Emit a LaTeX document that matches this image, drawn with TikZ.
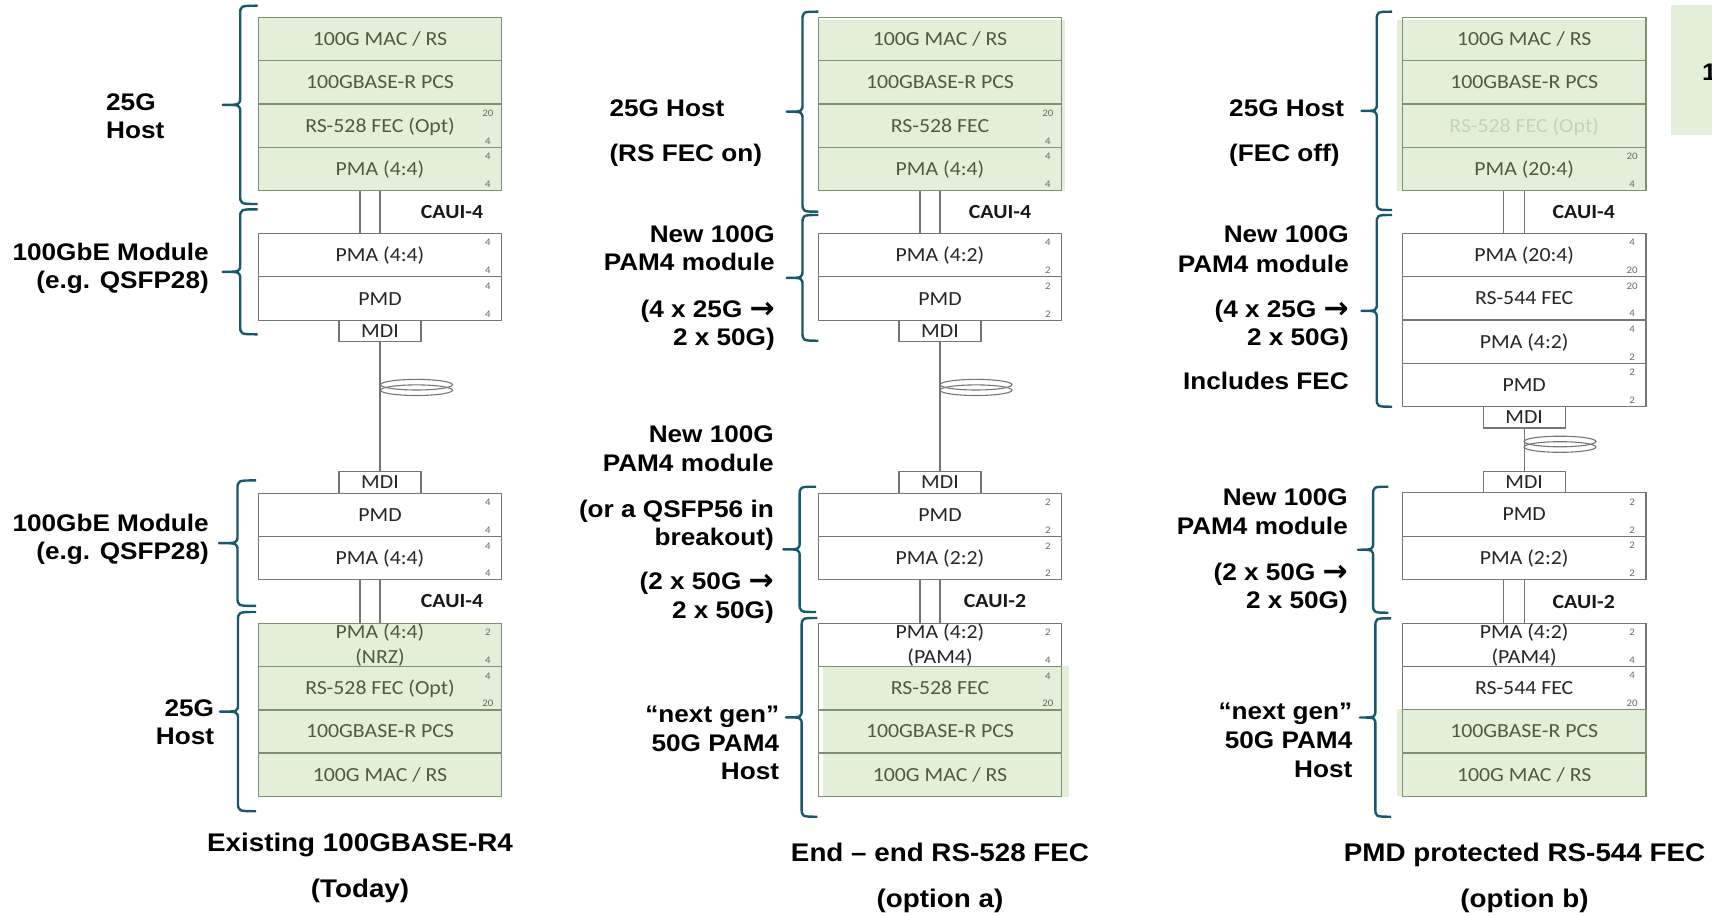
\documentclass[tikz,border=0pt]{standalone}
\usepackage{fontspec}
\setmainfont{Carlito}[FakeStretch=1.09]
\newfontfamily\labfont{Liberation Sans}[FakeStretch=1.09]
\newfontfamily\arrfont{DejaVu Sans}
\definecolor{gfill}{RGB}{227,239,217}
\definecolor{gtext}{RGB}{78,90,66}
\definecolor{wtext}{RGB}{38,38,38}
\definecolor{edge}{RGB}{118,118,118}
\definecolor{gedge}{RGB}{128,142,114}
\definecolor{brc}{RGB}{24,88,108}
\definecolor{numc}{RGB}{105,105,105}
\definecolor{faded}{RGB}{196,210,185}
\tikzset{
  box/.style={draw=edge, line width=1.1pt, minimum width=243.5pt, minimum height=43.35pt, inner sep=0pt, text=wtext},
  row/.style={box, font=\fontsize{20}{24}\selectfont, text height=12.9pt, text depth=0pt},
  two/.style={box, align=center, font=\fontsize{20}{25.7}\selectfont},
  grn/.style={draw=gedge, text=gtext},
  mdi/.style={draw=edge, line width=1.1pt, minimum width=82pt, minimum height=21.2pt, inner sep=0pt, font=\fontsize{20}{24}\selectfont, text height=12.9pt, text depth=0pt, text=wtext, fill=white},
  num/.style={font=\fontsize{10}{12}\selectfont, text=numc, inner sep=0pt},
  caui/.style={font=\bfseries\fontsize{20}{24}\selectfont, text=black!90, inner sep=0pt},
  lab/.style={font=\labfont\bfseries\fontsize{24}{28}\selectfont, inner sep=0pt},
  ttl/.style={font=\labfont\bfseries\fontsize{25.5}{30}\selectfont, inner sep=0pt, anchor=base},
  curly/.style={draw=brc, line width=2.4pt, line join=round},
  wire/.style={draw=edge, line width=1.1pt},
  coil/.style={draw=edge, line width=1.1pt}
}
\newcommand\lanes[3]{%
  \node[num] (#1t) at ([xshift=-14.5pt,yshift=-9.8pt]#1.north east) {#2};
  \node[num] (#1b) at ([xshift=-14.5pt,yshift=6.8pt]#1.south east) {#3};}
% #1 base x, #2 top y, #3 bottom y, #4 depth of the tip
\newcommand\curlyb[4]{%
  \draw[curly] (#1,#2) .. controls ({#1-#4/2},#2) .. ({#1-#4/2},{#2+9})
    -- ({#1-#4/2},{(#2+#3)/2-8}) .. controls ({#1-#4/2},{(#2+#3)/2}) .. ({#1-#4},{(#2+#3)/2})
    .. controls ({#1-#4/2},{(#2+#3)/2}) .. ({#1-#4/2},{(#2+#3)/2+8})
    -- ({#1-#4/2},{#3-9}) .. controls ({#1-#4/2},#3) .. (#1,#3);}
\newcommand\arr{{\arrfont\fontsize{30}{30}\selectfont\raisebox{-1.5pt}{→}}}
\begin{document}
\begin{tikzpicture}[x=1pt,y=-1pt]
\useasboundingbox (0,0) rectangle (1712,915);
\fill[white] (0,0) rectangle (1712,915);
% green backgrounds
\fill[gfill] (258,17.3) rectangle (502,190.7);
\fill[gfill] (258,623.5) rectangle (502,796.2);
\fill[gfill] (818.3,20) rectangle (1065,190.7);
\fill[gfill] (823.3,666.4) rectangle (1069,796.5);
\fill[gfill] (1397.3,20) rectangle (1645.7,190.7);
\fill[gfill] (1397.3,709.3) rectangle (1645.7,796);
\fill[gfill] (1671,5) rectangle (1712,135);
\node[lab,anchor=base west] (X1) at (1702,80.4) {1};

% ================= column 1 =================
\node[row,grn] (Ah1) at (380,39) {100G MAC / RS};
\node[row,grn] (Ah2) at (380,82.35) {100GBASE-R PCS};
\node[row,grn] (Ah3) at (380,125.65) {RS-528 FEC (Opt)};
\node[row,grn] (Ah4) at (380,169) {PMA (4:4)};
\node[row] (Am1) at (380,255.1) {PMA (4:4)};
\node[row] (Am2) at (380,298.6) {PMD};
\node[mdi] (Ad1) at (380,331) {MDI};
\node[mdi] (Ad2) at (380,482.5) {MDI};
\node[row] (Al1) at (380,514.75) {PMD};
\node[row] (Al2) at (380,558.25) {PMA (4:4)};
\node[two,grn] (Ag1) at (380,645.1) {PMA (4:4)\\(NRZ)};
\node[row,grn] (Ag2) at (380,688.3) {RS-528 FEC (Opt)};
\node[row,grn] (Ag3) at (380,731.4) {100GBASE-R PCS};
\node[row,grn] (Ag4) at (380,774.6) {100G MAC / RS};
\lanes{Ah3}{20}{4}\lanes{Ah4}{4}{4}\lanes{Am1}{4}{4}\lanes{Am2}{4}{4}
\lanes{Al1}{4}{4}\lanes{Al2}{4}{4}\lanes{Ag1}{2}{4}\lanes{Ag2}{4}{20}
\draw[wire] ([xshift=-20pt]Ah4.south) -- ([xshift=-20pt]Am1.north);
\draw[wire] (Ah4.south) -- (Am1.north);
\draw[wire] (Ad1.south) -- (Ad2.north);
\draw[wire] ([xshift=-20pt]Al2.south) -- ([xshift=-20pt]Ag1.north);
\draw[wire] (Al2.south) -- (Ag1.north);
\draw[coil] (416.5,384.7) ellipse [x radius=36pt, y radius=5.3pt];
\draw[coil] (416.5,390.2) ellipse [x radius=36pt, y radius=5.3pt];
\node[caui] (Ac1) at (452,212) {CAUI-4};
\node[caui] (Ac2) at (452,601) {CAUI-4};
\curlyb{257.7}{5.7}{204}{35}
\curlyb{257.7}{209.3}{334.3}{35}
\curlyb{256}{480.4}{605.9}{37}
\curlyb{256}{612}{811.2}{36}
\node[lab,anchor=base west] (AL1) at (106,110.4) {25G};
\node[lab,anchor=base west] (AL2) at (106,138.7) {Host};
\node[lab,anchor=base east] (AL3) at (209,260.4) {100GbE Module};
\node[lab,anchor=base east] (AL4) at (209,288.7) {(e.g. QSFP28)};
\node[lab,anchor=base east] (AL5) at (209,531) {100GbE Module};
\node[lab,anchor=base east] (AL6) at (209,559.3) {(e.g. QSFP28)};
\node[lab,anchor=base east] (AL7) at (214.3,716.5) {25G};
\node[lab,anchor=base east] (AL8) at (214.3,744.7) {Host};
\node[ttl] (AT1) at (360,851.6) {Existing 100GBASE-R4};
\node[ttl] (AT2) at (360,897) {(Today)};

% ================= column 2 =================
\node[row,grn] (Bh1) at (940,39) {100G MAC / RS};
\node[row,grn] (Bh2) at (940,82.35) {100GBASE-R PCS};
\node[row,grn] (Bh3) at (940,125.65) {RS-528 FEC};
\node[row,grn] (Bh4) at (940,169) {PMA (4:4)};
\node[row] (Bm1) at (940,255.1) {PMA (4:2)};
\node[row] (Bm2) at (940,298.6) {PMD};
\node[mdi] (Bd1) at (940,331) {MDI};
\node[mdi] (Bd2) at (940,482.5) {MDI};
\node[row] (Bl1) at (940,514.75) {PMD};
\node[row] (Bl2) at (940,558.25) {PMA (2:2)};
\node[two] (Bg1) at (940,645.1) {PMA (4:2)\\(PAM4)};
\node[row,grn] (Bg2) at (940,688.3) {RS-528 FEC};
\node[row,grn] (Bg3) at (940,731.4) {100GBASE-R PCS};
\node[row,grn] (Bg4) at (940,774.6) {100G MAC / RS};
\lanes{Bh3}{20}{4}\lanes{Bh4}{4}{4}\lanes{Bm1}{4}{2}\lanes{Bm2}{2}{2}
\lanes{Bl1}{2}{2}\lanes{Bl2}{2}{2}\lanes{Bg1}{2}{4}\lanes{Bg2}{4}{20}
\draw[wire] ([xshift=-20pt]Bh4.south) -- ([xshift=-20pt]Bm1.north);
\draw[wire] (Bh4.south) -- (Bm1.north);
\draw[wire] (Bd1.south) -- (Bd2.north);
\draw[wire] ([xshift=-20pt]Bl2.south) -- ([xshift=-20pt]Bg1.north);
\draw[wire] (Bl2.south) -- (Bg1.north);
\draw[coil] (976,384.7) ellipse [x radius=36pt, y radius=5.3pt];
\draw[coil] (976,390.2) ellipse [x radius=36pt, y radius=5.3pt];
\node[caui] (Bc1) at (1000,212) {CAUI-4};
\node[caui] (Bc2) at (995,601) {CAUI-2};
\curlyb{818.3}{11.7}{211.7}{31.6}
\curlyb{818.3}{215}{340.7}{31.6}
\curlyb{816}{486.7}{612}{32.7}
\curlyb{817.3}{618}{816.7}{31.3}
\node[lab,anchor=base west] (BL1) at (609.3,117) {25G Host};
\node[lab,anchor=base west] (BL2) at (609.3,161.5) {(RS FEC on)};
\node[lab,anchor=base east] (BL3) at (775,242) {New 100G};
\node[lab,anchor=base east] (BL4) at (775,270.4) {PAM4 module};
\node[lab,anchor=base east] (BL5) at (775,317) {(4 x 25G \arr};
\node[lab,anchor=base east] (BL6) at (775,345.4) {2 x 50G)};
\node[lab,anchor=base east] (BL7) at (774,442.2) {New 100G};
\node[lab,anchor=base east] (BL8) at (774,471.2) {PAM4 module};
\node[lab,anchor=base east] (BL9) at (774,517.4) {(or a QSFP56 in};
\node[lab,anchor=base east] (BL10) at (774,545.5) {breakout)};
\node[lab,anchor=base east] (BL11) at (774,589) {(2 x 50G \arr};
\node[lab,anchor=base east] (BL12) at (774,618.2) {2 x 50G)};
\node[lab,anchor=base east] (BL13) at (779.3,722.8) {“next gen”};
\node[lab,anchor=base east] (BL14) at (779.3,751.3) {50G PAM4};
\node[lab,anchor=base east] (BL15) at (779.3,779.6) {Host};
\node[ttl] (BT1) at (940,861.8) {End – end RS-528 FEC};
\node[ttl] (BT2) at (940,907) {(option a)};

% ================= column 3 =================
\node[row,grn] (Ch1) at (1524.2,39) {100G MAC / RS};
\node[row,grn] (Ch2) at (1524.2,82.35) {100GBASE-R PCS};
\node[row,grn,text=faded] (Ch3) at (1524.2,125.65) {RS-528 FEC (Opt)};
\node[row,grn] (Ch4) at (1524.2,169) {PMA (20:4)};
\node[row] (Cm1) at (1524.2,255) {PMA (20:4)};
\node[row] (Cm2) at (1524.2,298.35) {RS-544 FEC};
\node[row] (Cm3) at (1524.2,341.7) {PMA (4:2)};
\node[row] (Cm4) at (1524.2,385) {PMD};
\node[mdi] (Cd1) at (1524.2,417.4) {MDI};
\node[mdi] (Cd2) at (1524.2,482.2) {MDI};
\node[row] (Cl1) at (1524.2,514.4) {PMD};
\node[row] (Cl2) at (1524.2,558) {PMA (2:2)};
\node[two] (Cg1) at (1524.2,645) {PMA (4:2)\\(PAM4)};
\node[row] (Cg2) at (1524.2,688.2) {RS-544 FEC};
\node[row,grn] (Cg3) at (1524.2,731.4) {100GBASE-R PCS};
\node[row,grn] (Cg4) at (1524.2,774.6) {100G MAC / RS};
\lanes{Ch4}{20}{4}\lanes{Cm1}{4}{20}\lanes{Cm2}{20}{4}\lanes{Cm3}{4}{2}\lanes{Cm4}{2}{2}
\lanes{Cl1}{2}{2}\lanes{Cl2}{2}{2}\lanes{Cg1}{2}{4}\lanes{Cg2}{4}{20}
\draw[wire] ([xshift=-20.5pt]Ch4.south) -- ([xshift=-20.5pt]Cm1.north);
\draw[wire] (Ch4.south) -- (Cm1.north);
\draw[wire] (Cd1.south) -- (Cd2.north);
\draw[wire] ([xshift=-20.5pt]Cl2.south) -- ([xshift=-20.5pt]Cg1.north);
\draw[wire] (Cl2.south) -- (Cg1.north);
\draw[coil] (1560,441.5) ellipse [x radius=36pt, y radius=5.3pt];
\draw[coil] (1560,447) ellipse [x radius=36pt, y radius=5.3pt];
\node[caui] (Cc1) at (1583.7,212) {CAUI-4};
\node[caui] (Cc2) at (1583.7,601.7) {CAUI-2};
\curlyb{1392}{11.7}{210}{30.5}
\curlyb{1392}{215}{406.7}{30.5}
\curlyb{1388.4}{486.7}{612.7}{30.5}
\curlyb{1391}{618.3}{816.7}{31.3}
\node[lab,anchor=base west] (CL1) at (1229,117) {25G Host};
\node[lab,anchor=base west] (CL2) at (1229,161.5) {(FEC off)};
\node[lab,anchor=base east] (CL3) at (1349,242) {New 100G};
\node[lab,anchor=base east] (CL4) at (1349,272) {PAM4 module};
\node[lab,anchor=base east] (CL5) at (1349,317) {(4 x 25G \arr};
\node[lab,anchor=base east] (CL6) at (1349,345.4) {2 x 50G)};
\node[lab,anchor=base east] (CL7) at (1349,389.7) {Includes FEC};
\node[lab,anchor=base east] (CL8) at (1348,505.4) {New 100G};
\node[lab,anchor=base east] (CL9) at (1348,534.7) {PAM4 module};
\node[lab,anchor=base east] (CL10) at (1348,580.4) {(2 x 50G \arr};
\node[lab,anchor=base east] (CL11) at (1348,608.7) {2 x 50G)};
\node[lab,anchor=base east] (CL12) at (1352.5,719.4) {“next gen”};
\node[lab,anchor=base east] (CL13) at (1352.5,748) {50G PAM4};
\node[lab,anchor=base east] (CL14) at (1352.5,777) {Host};
\node[ttl] (CT1) at (1524.5,861.9) {PMD protected RS-544 FEC};
\node[ttl] (CT2) at (1524.5,907) {(option b)};
\end{tikzpicture}
\end{document}
